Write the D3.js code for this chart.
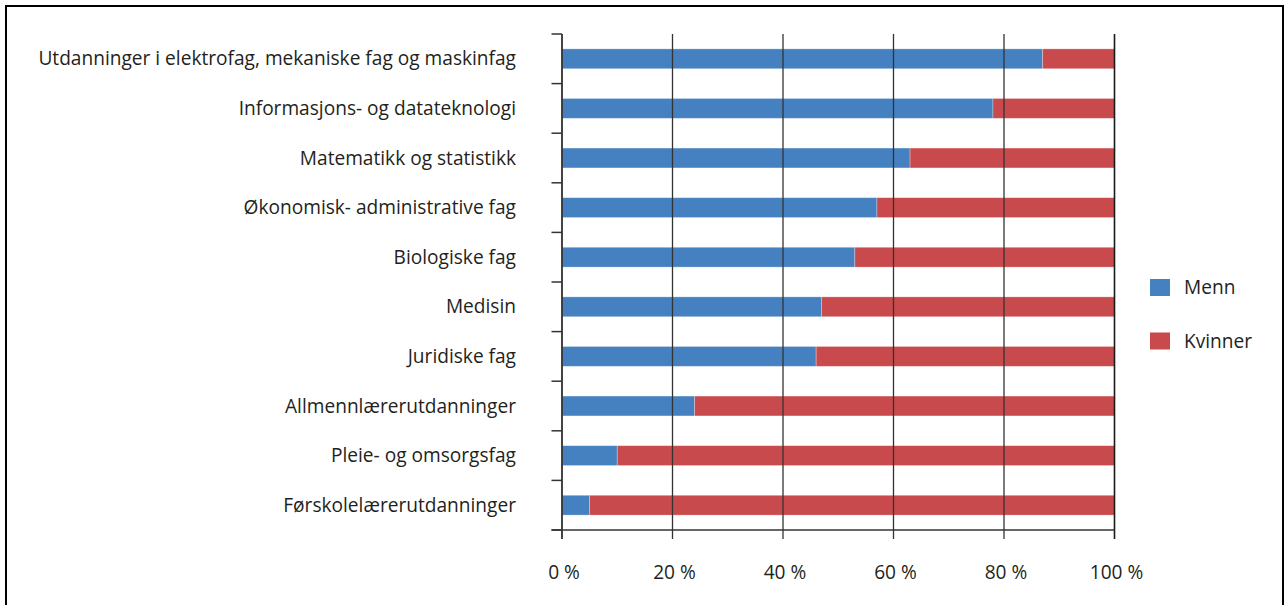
<!DOCTYPE html>
<html>
<head>
<meta charset="utf-8">
<script src="https://cdn.jsdelivr.net/npm/d3@7"></script>
<style>
  html, body { margin: 0; padding: 0; background: #fff; }
  svg { display: block; }
  text { font-family: "Open Sans", "Lato", sans-serif; fill: #231f20; }
</style>
</head>
<body>
<svg id="chart" width="1284" height="605"></svg>
<script>
// Share of men and women by field of study (percent)
const categories = [
  "Utdanninger i elektrofag, mekaniske fag og maskinfag",
  "Informasjons- og datateknologi",
  "Matematikk og statistikk",
  "Økonomisk- administrative fag",
  "Biologiske fag",
  "Medisin",
  "Juridiske fag",
  "Allmennlærerutdanninger",
  "Pleie- og omsorgsfag",
  "Førskolelærerutdanninger"
];
const menn    = [87, 78, 63, 57, 53, 47, 46, 24, 10, 5];
const kvinner = [13, 22, 37, 43, 47, 53, 54, 76, 90, 95];
const seriesNames = ["Menn", "Kvinner"];
const seriesColors = ["#4580c1", "#c84a4c"];
const xTicks = [0, 20, 40, 60, 80, 100];
const xTickLabels = ["0 %", "20 %", "40 %", "60 %", "80 %", "100 %"];

const svg = d3.select("#chart");

// Outer frame
svg.append("path")
  .attr("d", "M6,605 V6 H1283 V605")
  .attr("fill", "none")
  .attr("stroke", "#000")
  .attr("stroke-width", 2);

const plot = { left: 562, right: 1114.5, top: 34, bottom: 530 };

const x = d3.scaleLinear().domain([0, 100]).range([plot.left, plot.right]);
const y = d3.scaleBand()
  .domain(categories)
  .range([plot.top, plot.bottom])
  .paddingInner(0.6)
  .paddingOuter(0.3);

const rows = categories.map((c, i) => ({ cat: c, values: [menn[i], kvinner[i]] }));
const stacked = d3.stack().keys([0, 1]).value((d, k) => d.values[k])(rows);

// Bars
const gBars = svg.append("g");
stacked.forEach((layer, k) => {
  gBars.selectAll(null)
    .data(layer)
    .join("rect")
    .attr("x", d => x(d[0]))
    .attr("width", d => x(d[1]) - x(d[0]))
    .attr("y", d => y(d.data.cat))
    .attr("height", y.bandwidth())
    .attr("fill", seriesColors[k])
    .attr("stroke", "rgba(255,255,255,0.35)")
    .attr("stroke-width", 0.8);
});

// Vertical gridlines with ticks below the axis (drawn over the bars)
const gGrid = svg.append("g");
gGrid.selectAll("line")
  .data(xTicks)
  .join("line")
  .attr("x1", d => x(d)).attr("x2", d => x(d))
  .attr("y1", plot.top).attr("y2", plot.bottom + 9)
  .attr("stroke", (d, i) => i === xTicks.length - 1 ? "#1a1a1a" : "#333")
  .attr("stroke-width", (d, i) => i === xTicks.length - 1 ? 1.6 : 1.3);

// Category axis line and boundary ticks
const step = y.step();
const boundaries = d3.range(categories.length + 1).map(i => plot.top + i * step);
const gAxis = svg.append("g");
gAxis.append("line")
  .attr("x1", plot.left).attr("x2", plot.left)
  .attr("y1", plot.top).attr("y2", plot.bottom + 9)
  .attr("stroke", "#333").attr("stroke-width", 1.5);
gAxis.selectAll("line.tick")
  .data(boundaries)
  .join("line")
  .attr("class", "tick")
  .attr("x1", plot.left - 10.5).attr("x2", plot.left)
  .attr("y1", d => d).attr("y2", d => d)
  .attr("stroke", "#333").attr("stroke-width", 1.5);
gAxis.append("line")
  .attr("x1", plot.left - 10.5).attr("x2", plot.right)
  .attr("y1", plot.bottom).attr("y2", plot.bottom)
  .attr("stroke", "#333").attr("stroke-width", 1.5);

// Category labels; font size chosen so the longest label spans the label column
const labelRight = 516, labelLeft = 38;
const labels = svg.append("g").selectAll("text")
  .data(categories)
  .join("text")
  .attr("x", labelRight)
  .attr("y", d => y(d) + y.bandwidth() / 2)
  .attr("dy", "0.35em")
  .attr("text-anchor", "end")
  .style("font-size", "17px")
  .text(d => d);
const widest = d3.max(labels.nodes(), n => n.getComputedTextLength());
const fontSize = 17 * (labelRight - labelLeft) / widest;
labels.style("font-size", fontSize + "px");

// X tick labels
svg.append("g").selectAll("text")
  .data(xTicks)
  .join("text")
  .attr("x", d => x(d) + 2)
  .attr("y", 572)
  .attr("dy", "0.35em")
  .attr("text-anchor", "middle")
  .style("font-size", fontSize + "px")
  .text((d, i) => xTickLabels[i]);

// Legend
const legend = svg.append("g");
seriesNames.forEach((name, i) => {
  const ly = 279 + i * 53.5;
  legend.append("rect")
    .attr("x", 1150).attr("y", ly)
    .attr("width", 20).attr("height", 17)
    .attr("fill", seriesColors[i]);
  legend.append("text")
    .attr("x", 1184).attr("y", ly + 8.5)
    .attr("dy", "0.35em")
    .style("font-size", fontSize + "px")
    .text(name);
});
</script>
</body>
</html>
